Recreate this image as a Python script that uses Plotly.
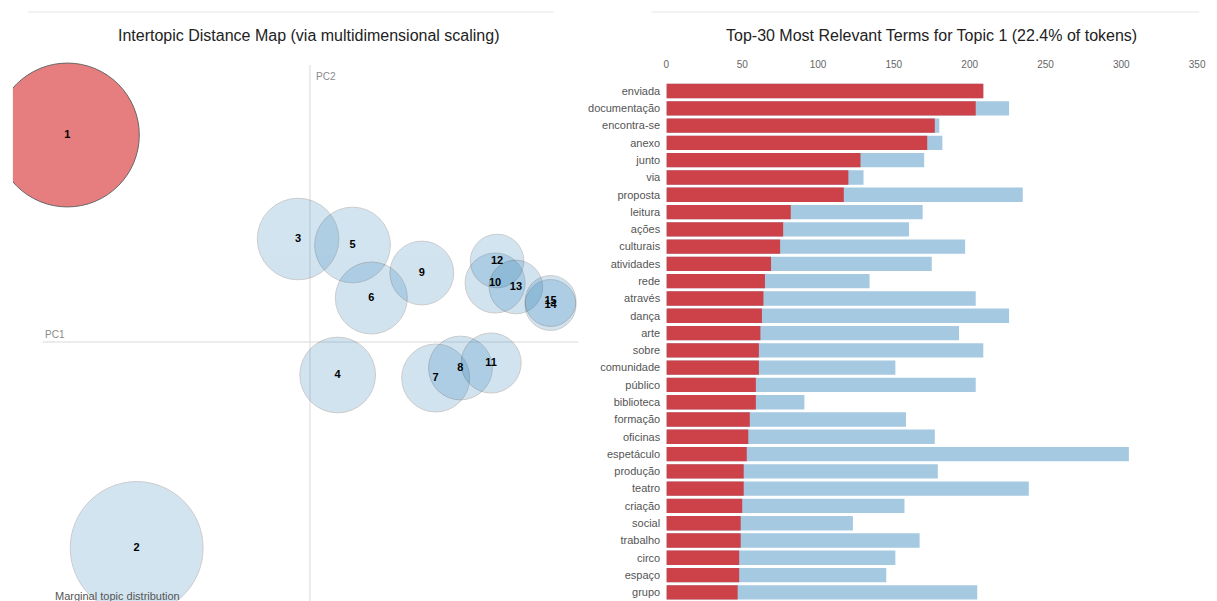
import numpy as np
import plotly.graph_objects as go

# ---- Intertopic distance map (MDS coordinates and marginal topic share, %) ----
topic_ids = [1, 2, 3, 4, 5, 6, 7, 8, 9, 10, 11, 12, 13, 14, 15]
pc1 = [-0.245, -0.175, -0.012, 0.028, 0.043, 0.062, 0.127, 0.152, 0.113,
       0.187, 0.183, 0.189, 0.208, 0.243, 0.243]
pc2 = [0.207, -0.206, 0.103, -0.033, 0.097, 0.044, -0.036, -0.026, 0.069,
       0.059, -0.021, 0.081, 0.055, 0.037, 0.041]
topic_share = [22.4, 19.1, 7.2, 6.2, 6.2, 5.6, 5.0, 4.4, 4.4, 3.9, 3.9,
               3.1, 3.1, 2.8, 2.8]
selected_topic = 1

# ---- Top-30 most relevant terms for the selected topic ----
terms = ["enviada", "documentação", "encontra-se", "anexo", "junto", "via",
         "proposta", "leitura", "ações", "culturais", "atividades", "rede",
         "através", "dança", "arte", "sobre", "comunidade", "público",
         "biblioteca", "formação", "oficinas", "espetáculo", "produção",
         "teatro", "criação", "social", "trabalho", "circo", "espaço", "grupo"]
topic_freq = [209, 204, 177, 172, 128, 120, 117, 82, 77, 75, 69, 65, 64, 63,
              62, 61, 61, 59, 59, 55, 54, 53, 51, 51, 50, 49, 49, 48, 48, 47]
total_freq = [209, 226, 180, 182, 170, 130, 235, 169, 160, 197, 175, 134,
              204, 226, 193, 209, 151, 204, 91, 158, 177, 305, 179, 239,
              157, 123, 167, 151, 145, 205]
freq_ticks = [0, 50, 100, 150, 200, 250, 300, 350]

W, H = 1217, 601
FONT = "Liberation Sans, Arial, sans-serif"
BLUE = "#1f77b4"
RED = "#d62728"

fig = go.Figure()

# topic circles: area proportional to the topic's share of tokens
colors = [RED if t == selected_topic else BLUE for t in topic_ids]
opac = [0.6 if t == selected_topic else 0.2 for t in topic_ids]
for i, t in enumerate(topic_ids):
    fig.add_trace(go.Scatter(
        x=[pc1[i]], y=[pc2[i]], mode="markers",
        marker=dict(size=[topic_share[i]], sizemode="area", sizeref=2 / 924.0,
                    color=colors[i], opacity=opac[i],
                    line=dict(color="black", width=1)),
        hoverinfo="skip", showlegend=False, xaxis="x", yaxis="y",
        cliponaxis=True))

# topic numbers
fig.add_trace(go.Scatter(
    x=pc1, y=pc2, mode="text", text=[str(t) for t in topic_ids],
    textfont=dict(family=FONT, size=11, color="black", weight="bold"),
    textposition="middle center", hoverinfo="skip", showlegend=False,
    xaxis="x", yaxis="y"))

# overall term frequency (blue) with topic-specific frequency (red) on top
fig.add_trace(go.Bar(
    y=terms, x=total_freq, orientation="h", marker=dict(color="#a5c9e1", line_width=0),
    xaxis="x2", yaxis="y2", showlegend=False, hoverinfo="skip"))
fig.add_trace(go.Bar(
    y=terms, x=topic_freq, orientation="h", marker=dict(color="#cd4249", line_width=0),
    xaxis="x2", yaxis="y2", showlegend=False, hoverinfo="skip"))

# px -> paper helpers for layout placement
def px_x(p):
    return p / W

def px_y(p):
    return 1 - p / H

x_lo, x_hi = (10 - 310) / 1000, (581 - 310) / 1000
y_lo, y_hi = (342 - 601) / 1000, (342 - 60) / 1000

fig.update_layout(
    width=W, height=H, autosize=False, margin=dict(l=0, r=0, t=0, b=0),
    paper_bgcolor="white", plot_bgcolor="white",
    barmode="overlay", bargap=0.17,
    font=dict(family=FONT, color="#555"),
    xaxis=dict(domain=[px_x(10), px_x(581)], range=[x_lo, x_hi],
               showgrid=False, zeroline=False, showticklabels=False,
               showline=False, ticks=""),
    yaxis=dict(domain=[0, px_y(60)], range=[y_lo, y_hi],
               showgrid=False, zeroline=False, showticklabels=False,
               showline=False, ticks=""),
    xaxis2=dict(domain=[px_x(670), px_x(1206)], range=[0, 350], side="top",
                anchor="y2", tickvals=freq_ticks, showgrid=False,
                zeroline=False, showline=False, ticks="outside", ticklen=9,
                tickcolor="rgba(0,0,0,0)",
                tickfont=dict(family=FONT, size=10, color="#666")),
    yaxis2=dict(domain=[0, px_y(82.4)], anchor="x2",
                categoryorder="array", categoryarray=terms,
                range=[len(terms) - 0.5, -0.5], showgrid=False,
                zeroline=False, showline=False, ticks="outside", ticklen=3,
                tickcolor="rgba(0,0,0,0)",
                tickfont=dict(family=FONT, size=11, color="#555")),
)

# PC axes through the origin
line_style = dict(color="#d9d9d9", width=1)
fig.add_shape(type="line", xref="x domain", yref="y", x0=(40 - 10) / 571, x1=1,
              y0=0, y1=0, line=line_style, layer="below")
fig.add_shape(type="line", xref="x", yref="y domain", x0=0, x1=0,
              y0=0, y1=(601 - 65) / 541, line=line_style, layer="below")

# panel separators
sep = dict(color="#e6e6e6", width=1)
fig.add_shape(type="line", xref="paper", yref="paper", x0=px_x(25), x1=px_x(556),
              y0=px_y(12), y1=px_y(12), line=sep)
fig.add_shape(type="line", xref="paper", yref="paper", x0=px_x(655), x1=px_x(1208),
              y0=px_y(12), y1=px_y(12), line=sep)

def label(text, x, y, size, color, xanchor="center"):
    fig.add_annotation(text=text, xref="paper", yref="paper", x=px_x(x), y=px_y(y),
                       xanchor=xanchor, yanchor="middle", showarrow=False,
                       font=dict(family=FONT, size=size, color=color))

label("Intertopic Distance Map (via multidimensional scaling)", 309, 36, 16, "#222")
label(f"Top-30 Most Relevant Terms for Topic {selected_topic} "
      f"({topic_share[topic_ids.index(selected_topic)]:.1f}% of tokens)", 938, 36, 16, "#222")
label("PC1", 40, 335, 10, "#8a8a8a", xanchor="left")
label("PC2", 314, 76, 10, "#8a8a8a", xanchor="left")
label("Marginal topic distribution", 50, 596, 11, "#555", xanchor="left")

fig.write_html("out.html", config={"responsive": False})
